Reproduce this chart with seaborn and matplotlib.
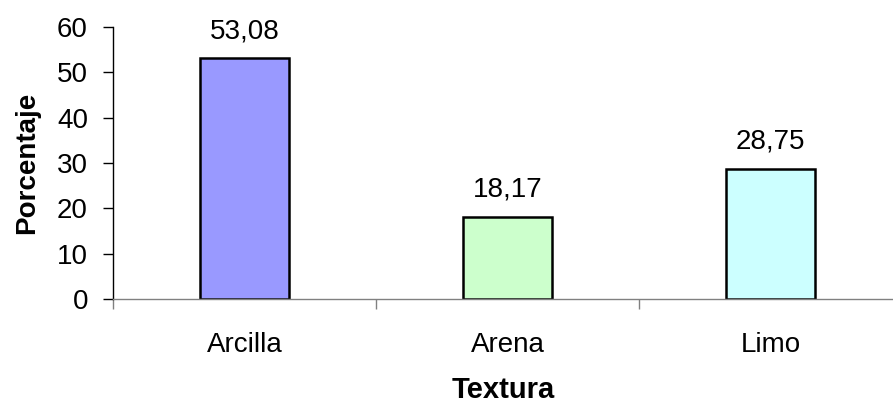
import matplotlib
matplotlib.use("Agg")
import matplotlib.pyplot as plt
import seaborn as sns
import pandas as pd

texturas = ["Arcilla", "Arena", "Limo"]
porcentajes = [53.08, 18.17, 28.75]
colores = ["#9999FF", "#CCFFCC", "#CCFFFF"]

sns.set_theme(style="white")
plt.rcParams["font.family"] = ["Liberation Sans", "DejaVu Sans"]
plt.rcParams["text.color"] = "black"
plt.rcParams["axes.labelcolor"] = "black"

df = pd.DataFrame({"Textura": texturas, "Porcentaje": porcentajes})

fig = plt.figure(figsize=(8.93, 4.04), dpi=100)
ax = fig.add_axes([113 / 893, 1 - 299 / 404, 1 - 113 / 893, (299 - 27) / 404])

sns.barplot(data=df, x="Textura", y="Porcentaje", hue="Textura", palette=colores,
            saturation=1, width=0.335, edgecolor="black", linewidth=1.8,
            legend=False, ax=ax)

ax.set_xlim(-0.5, 2.466)
ax.set_ylim(0, 60)
ax.set_yticks(range(0, 61, 10))

for i, v in enumerate(porcentajes):
    ax.annotate(f"{v:.2f}".replace(".", ","), (i, v), xytext=(0, 10),
                textcoords="offset points", ha="center", va="bottom", fontsize=20)

ax.spines["top"].set_visible(False)
ax.spines["right"].set_visible(False)
ax.spines["left"].set_color("black")
ax.spines["left"].set_linewidth(1.0)
ax.spines["bottom"].set_color("#808080")
ax.spines["bottom"].set_linewidth(1.0)

ax.tick_params(axis="y", which="major", left=True, length=7, width=1, color="black",
               labelcolor="black", pad=11, labelsize=20)
ax.tick_params(axis="x", which="major", bottom=False, length=0, pad=24,
               labelcolor="black", labelsize=20)
ax.set_xticks([-0.5, 0.5, 1.5], minor=True)
ax.tick_params(axis="x", which="minor", bottom=True, length=7, width=1, color="#808080")

ax.set_xlabel("Textura", fontsize=21, fontweight="bold", labelpad=13)
ax.set_ylabel("Porcentaje", fontsize=20, fontweight="bold", labelpad=12)

fig.savefig("out.png", dpi=100)
